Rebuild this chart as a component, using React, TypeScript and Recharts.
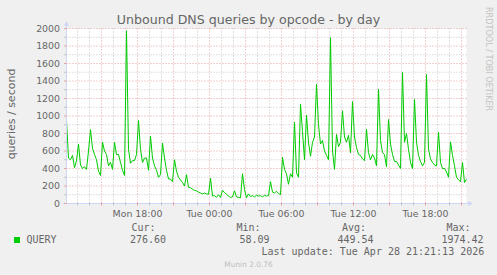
import { LineChart, Line, XAxis, YAxis, CartesianGrid, ReferenceLine, ReferenceDot } from "recharts"

// QUERY rate (queries/s), one reading every 2 rrd steps (10 min), from Mon ~12:00 to Tue 21:20
const queryRate = [
  950, 520, 500, 550, 410, 490, 680, 440, 400, 420,
  390, 600, 845, 630, 560, 500, 370, 320, 700, 600,
  560, 430, 470, 390, 700, 560, 560, 470, 380, 320,
  1975, 620, 460, 490, 490, 560, 950, 620, 470, 520,
  520, 380, 770, 520, 430, 380, 300, 330, 690, 520,
  380, 280, 280, 250, 500, 370, 300, 270, 240, 200,
  330, 185, 180, 165, 150, 145, 130, 120, 110, 120,
  110, 105, 290, 85, 90, 70, 100, 70, 150, 125,
  105, 85, 70, 75, 145, 75, 70, 65, 340, 160,
  65, 110, 80, 90, 75, 95, 85, 90, 75, 95,
  85, 90, 250, 130, 120, 140, 115, 100, 530, 390,
  340, 220, 340, 300, 930, 350, 300, 1135, 820, 500,
  1010, 700, 540, 700, 760, 1365, 900, 680, 720, 600,
  550, 500, 1895, 600, 390, 790, 650, 700, 1060, 760,
  700, 780, 580, 1165, 760, 640, 560, 550, 510, 490,
  850, 580, 500, 560, 520, 430, 1306, 720, 580, 560,
  420, 960, 680, 560, 480, 480, 440, 400, 1500, 700,
  800, 620, 470, 400, 1190, 700, 550, 480, 430, 470,
  1475, 620, 510, 470, 440, 430, 815, 470, 400, 400,
  360, 300, 705, 550, 430, 300, 270, 250, 470, 240,
  277,
]

const hourLabels = ["Mon 18:00", "Tue 00:00", "Tue 06:00", "Tue 12:00", "Tue 18:00"]
const legendHeads = ["Cur:", "Min:", "Avg:", "Max:"]
const legendValues = ["276.60", "58.09", "449.54", "1974.42"]

const STEPS_PER_SAMPLE = 2
const STEPS_PER_HOUR = 12
const FIRST_HOUR_STEP = 11 // Mon 13:00
const FIRST_HOUR = 13

const FONT = "'DejaVu Sans', sans-serif"
const MONO = "'DejaVu Sans Mono', monospace"
const TEXT = "#666666"
const AXIS = "#cfd6f8"
const MGRID = "#e6a0a0"
const GRID = "#c4c4c4"
const GREEN = "#00cc00"

const rows = queryRate.map((v, i) => ({ step: i * STEPS_PER_SAMPLE, v }))

const hourTicks = Array.from({ length: 33 }, (_, h) => FIRST_HOUR_STEP + h * STEPS_PER_HOUR)
const hourOf = (s: number) => FIRST_HOUR + (s - FIRST_HOUR_STEP) / STEPS_PER_HOUR
const labelTicks = hourTicks.filter((s) => hourOf(s) % 6 === 0)
const valueTicks = Array.from({ length: 21 }, (_, i) => i * 100)

function XTick({ x, y, payload }: any) {
  const s = payload.value
  const major = hourOf(s) % 3 === 0
  const li = labelTicks.indexOf(s)
  const axisY = y - 6
  return (
    <g>
      <line x1={x} x2={x} y1={axisY - 1.5} y2={axisY + 2} stroke={major ? MGRID : GRID} />
      {li >= 0 && (
        <text x={x} y={axisY + 13} textAnchor="middle" fontFamily={FONT} fontSize={9.4} fill={TEXT}>
          {hourLabels[li]}
        </text>
      )}
    </g>
  )
}

function YTick({ x, y, payload }: any) {
  const v = payload.value
  const major = v % 200 === 0
  const axisX = x + 7
  return (
    <g>
      <line x1={axisX - 2.5} x2={axisX} y1={y} y2={y} stroke={major ? MGRID : GRID} />
      {major && (
        <text x={x + 0.5} y={y + 3.3} textAnchor="end" fontFamily={FONT} fontSize={9.4} fill={TEXT}>
          {v}
        </text>
      )}
    </g>
  )
}

const upArrow = ({ cx, cy }: any) => (
  <g>
    <line x1={cx} x2={cx} y1={cy} y2={cy - 3} stroke={AXIS} />
    <path d={`M${cx - 2.5},${cy - 2.5} L${cx},${cy - 7.5} L${cx + 2.5},${cy - 2.5} Z`} fill={AXIS} />
  </g>
)

const rightArrow = ({ cx, cy }: any) => (
  <g>
    <line x1={cx} x2={cx + 2} y1={cy} y2={cy} stroke={AXIS} />
    <line x1={cx - 403} x2={cx - 400} y1={cy} y2={cy} stroke={AXIS} />
    <path d={`M${cx + 1.5},${cy - 2.5} L${cx + 6.5},${cy} L${cx + 1.5},${cy + 2.5} Z`} fill={AXIS} />
  </g>
)

export default function App() {
  return (
    <div style={{ position: "absolute", left: 0, top: 0, width: 497, height: 275, background: "#f0f0f0" }}>
      <LineChart
        width={497}
        height={275}
        data={rows}
        margin={{ top: 28.5, right: 30.5, bottom: 41.5, left: 0 }}
      >
        <CartesianGrid fill="#ffffff" horizontal={false} vertical={false} />
        {valueTicks.filter((v) => v > 0).map((v) => (
          <ReferenceLine
            key={"h" + v}
            y={v}
            stroke={v % 200 === 0 ? MGRID : GRID}
            strokeDasharray="1 2"
          />
        ))}
        {hourTicks.map((s) => (
          <ReferenceLine
            key={"v" + s}
            x={s}
            stroke={hourOf(s) % 3 === 0 ? MGRID : GRID}
            strokeDasharray="1 2"
          />
        ))}
        <XAxis
          type="number"
          dataKey="step"
          domain={[0, 400]}
          ticks={hourTicks}
          interval={0}
          height={30}
          tick={XTick}
          tickLine={false}
          tickSize={0}
          tickMargin={6}
          axisLine={{ stroke: AXIS }}
        />
        <YAxis
          type="number"
          domain={[0, 2000]}
          ticks={valueTicks}
          interval={0}
          width={66.5}
          tick={YTick}
          tickLine={false}
          tickSize={0}
          tickMargin={7}
          axisLine={{ stroke: AXIS }}
        />
        <Line
          type="linear"
          dataKey="v"
          stroke={GREEN}
          strokeWidth={1}
          dot={false}
          activeDot={false}
          isAnimationActive={false}
        />
        <ReferenceDot x={0} y={2000} r={0} ifOverflow="visible" shape={upArrow} />
        <ReferenceDot x={400} y={0} r={0} ifOverflow="visible" shape={rightArrow} />
      </LineChart>

      <svg width={497} height={275} style={{ position: "absolute", left: 0, top: 0, pointerEvents: "none" }}>
        <text x={248.5} y={24} textAnchor="middle" fontFamily={FONT} fontSize={12.6} fill={TEXT}>
          Unbound DNS queries by opcode - by day
        </text>
        <text
          x={15}
          y={114}
          textAnchor="middle"
          transform="rotate(-90 15 114)"
          fontFamily={FONT}
          fontSize={11}
          fill={TEXT}
        >
          queries / second
        </text>
        <text
          x={485.5}
          y={7}
          transform="rotate(90 485.5 7)"
          fontFamily={FONT}
          fontSize={8.1}
          fill="#c4c4c4"
        >
          RRDTOOL / TOBI OETIKER
        </text>

        <g fontFamily={MONO} fontSize={10} fill={TEXT}>
          {legendHeads.map((h, i) => (
            <text key={h} x={[131.5, 236.5, 342, 446.5][i]} y={231}>
              {h}
            </text>
          ))}
          <rect x={14} y={237} width={6} height={6} fill={GREEN} />
          <text x={26.5} y={243}>QUERY</text>
          {legendValues.map((v, i) => (
            <text key={v} x={[130, 239.5, 337.5, 441.5][i]} y={243}>
              {v}
            </text>
          ))}
          <text x={261.5} y={255}>Last update: Tue Apr 28 21:21:13 2026</text>
        </g>
        <text x={248.5} y={266.5} textAnchor="middle" fontFamily={FONT} fontSize={7.4} fill="#c0c0c0">
          Munin 2.0.76
        </text>
      </svg>
    </div>
  )
}
